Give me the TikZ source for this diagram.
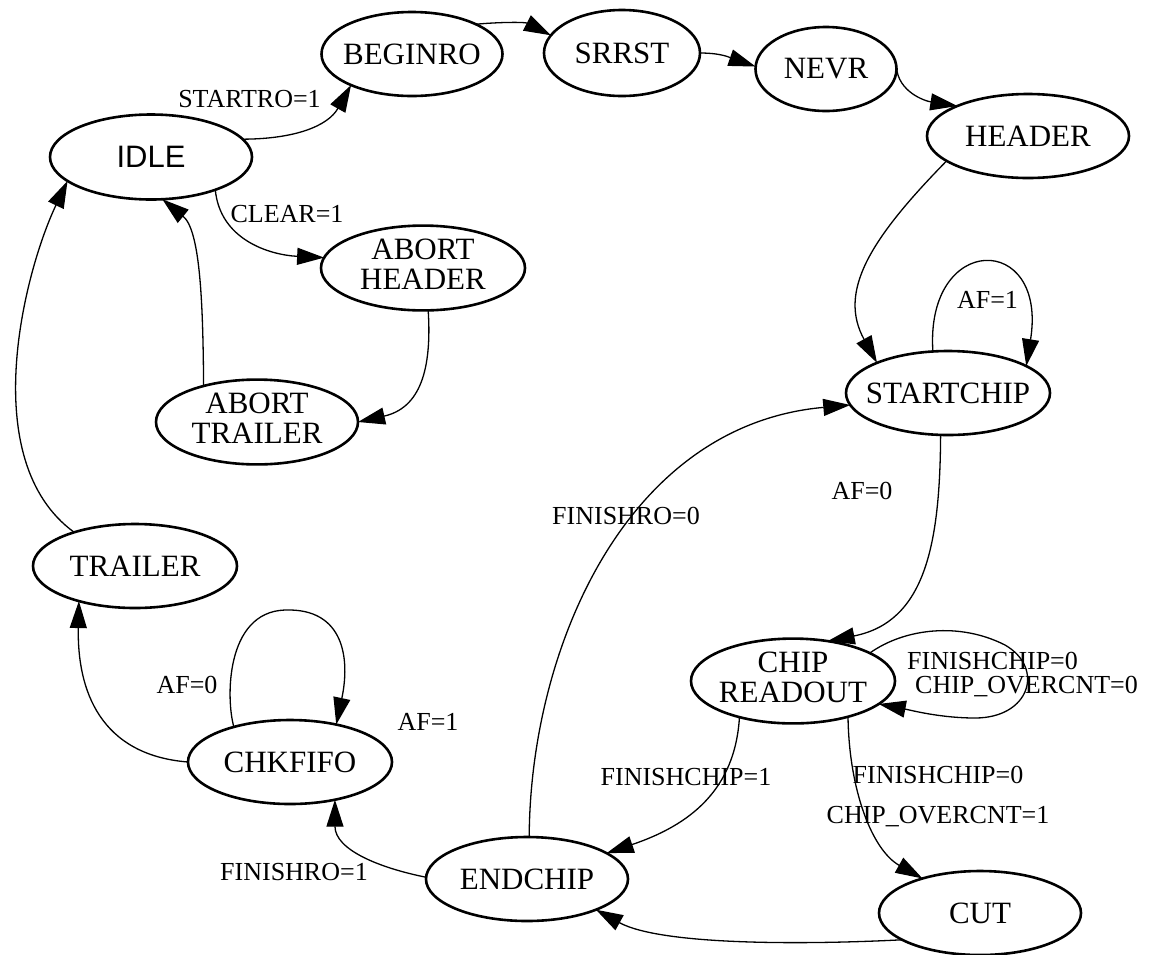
\documentclass[tikz,border=0pt]{standalone}
\usepackage{fontspec}
\setmainfont{Liberation Serif}
\newfontfamily\idlefont{Liberation Sans}
\usetikzlibrary{shapes.geometric,arrows.meta}

% zero-width label boxes keep the ellipse size set by minimum width/height
\newcommand{\stlabel}[1]{\makebox[0pt]{#1}}
\newcommand{\sttwo}[2]{\makebox[0pt]{\begin{tabular}{@{}c@{}}#1\\#2\end{tabular}}}

\tikzset{
  state/.style={draw, ellipse, line width=2.6pt, inner sep=0pt, outer sep=0pt,
    minimum width=202pt, minimum height=84pt, font=\fontsize{31}{30}\selectfont},
  edge/.style={line width=1.3pt, -{Triangle[length=27pt,width=17pt]}},
  elabel/.style={font=\fontsize{26}{22.5}\selectfont, inner sep=0pt, anchor=base},
}

\begin{document}
\begin{tikzpicture}[x=1pt,y=-1pt]
\useasboundingbox (0,0) rectangle (1154,954);

% states
\node[state, font=\idlefont\fontsize{31}{30}\selectfont, minimum height=85pt] (idle) at (151,157) {\stlabel{IDLE}};
\node[state, minimum width=181pt] (beginro) at (412,54) {\stlabel{BEGINRO}};
\node[state, minimum width=156pt, minimum height=86pt] (srrst) at (622,53) {\stlabel{SRRST}};
\node[state, minimum width=141pt] (nevr) at (826,69) {\stlabel{NEVR}};
\node[state] (header) at (1028,136) {\stlabel{HEADER}};
\node[state, minimum width=204pt] (abhd) at (423,268) {\sttwo{ABORT}{HEADER}};
\node[state] (abtr) at (257,422) {\sttwo{ABORT}{TRAILER}};
\node[state, minimum width=204pt] (trailer) at (135,566) {\stlabel{TRAILER}};
\node[state, minimum width=204pt] (chkfifo) at (290,762) {\stlabel{CHKFIFO}};
\node[state] (endchip) at (527,879) {\stlabel{ENDCHIP}};
\node[state, minimum width=204pt] (startchip) at (948,393) {\stlabel{STARTCHIP}};
\node[state, minimum width=204pt] (chipr) at (793,681) {\sttwo{CHIP}{READOUT}};
\node[state] (cut) at (980,913) {\stlabel{CUT}};

% transitions
\draw[edge] (idle.11) .. controls (295,139) and (328,126) .. (beginro.207);
\draw[edge] (beginro.25) .. controls (500,22) and (525,22) .. (srrst.166);
\draw[edge] (srrst.0) .. controls (722,53) and (731,58) .. (nevr.178);
\draw[edge] (nevr.2) .. controls (898,92) and (925,101) .. (header.157);
\draw[edge] (header.197) .. controls (869,240) and (838,292) .. (startchip.157);
\draw[edge] (startchip.110) .. controls (925,232) and (1048,232) .. (startchip.19);
\draw[edge] (startchip.260) .. controls (940,545) and (925,622) .. (chipr.49);
\draw[edge] (endchip.87) .. controls (530,650) and (625,425) .. (startchip.187);
\draw[edge] (chipr.20) .. controls (905,628) and (960,622) .. (1005,645)
                       .. controls (1045,668) and (1030,718) .. (975,718)
                       .. controls (940,718) and (910,710) .. (chipr.-15);
\draw[edge] (chipr.-33) .. controls (849,790) and (872,850) .. (cut.149);
\draw[edge] (chipr.214) .. controls (735,790) and (690,825) .. (endchip.18);
\draw[edge] (cut.199) .. controls (800,945) and (660,945) .. (endchip.-24);
\draw[edge] (endchip.179) .. controls (380,868) and (335,850) .. (chkfifo.-40);
\draw[edge] (chkfifo.148) .. controls (226,700) and (225,612) .. (285,610)
                          .. controls (345,608) and (350,660) .. (chkfifo.39);
\draw[edge] (chkfifo.180) .. controls (100,755) and (77,690) .. (trailer.212);
\draw[edge] (trailer.151) .. controls (-25,460) and (25,270) .. (idle.196);
\draw[edge] (abtr.146) .. controls (203,300) and (200,230) .. (idle.-75);
\draw[edge] (idle.-27) .. controls (220,240) and (270,255) .. (abhd.174);
\draw[edge] (abhd.-83) .. controls (432,370) and (420,408) .. (abtr.0);

% transition labels
\node[elabel] (l1) at (249.5,107) {STARTRO=1};
\node[elabel] (l2) at (287,222) {CLEAR=1};
\node[elabel] (l3) at (987.5,308.5) {AF=1};
\node[elabel] (l4) at (862,499) {AF=0};
\node[elabel] (l5) at (626,524) {FINISHRO=0};
\node[elabel, anchor=base west] (l6) at (907,669.3)
  {\begin{tabular}[t]{@{}l@{}}FINISHCHIP=0\\\hspace{8pt}CHIP\_OVERCNT=0\end{tabular}};
\node[elabel] (l7) at (686,785) {FINISHCHIP=1};
\node[elabel] (l8) at (938,783.3)
  {\begin{tabular}[t]{@{}c@{}}FINISHCHIP=0\\[15.9pt]CHIP\_OVERCNT=1\end{tabular}};
\node[elabel] (l9) at (294,880) {FINISHRO=1};
\node[elabel] (l10) at (187,693.3) {AF=0};
\node[elabel] (l11) at (428,730) {AF=1};
\end{tikzpicture}
\end{document}
